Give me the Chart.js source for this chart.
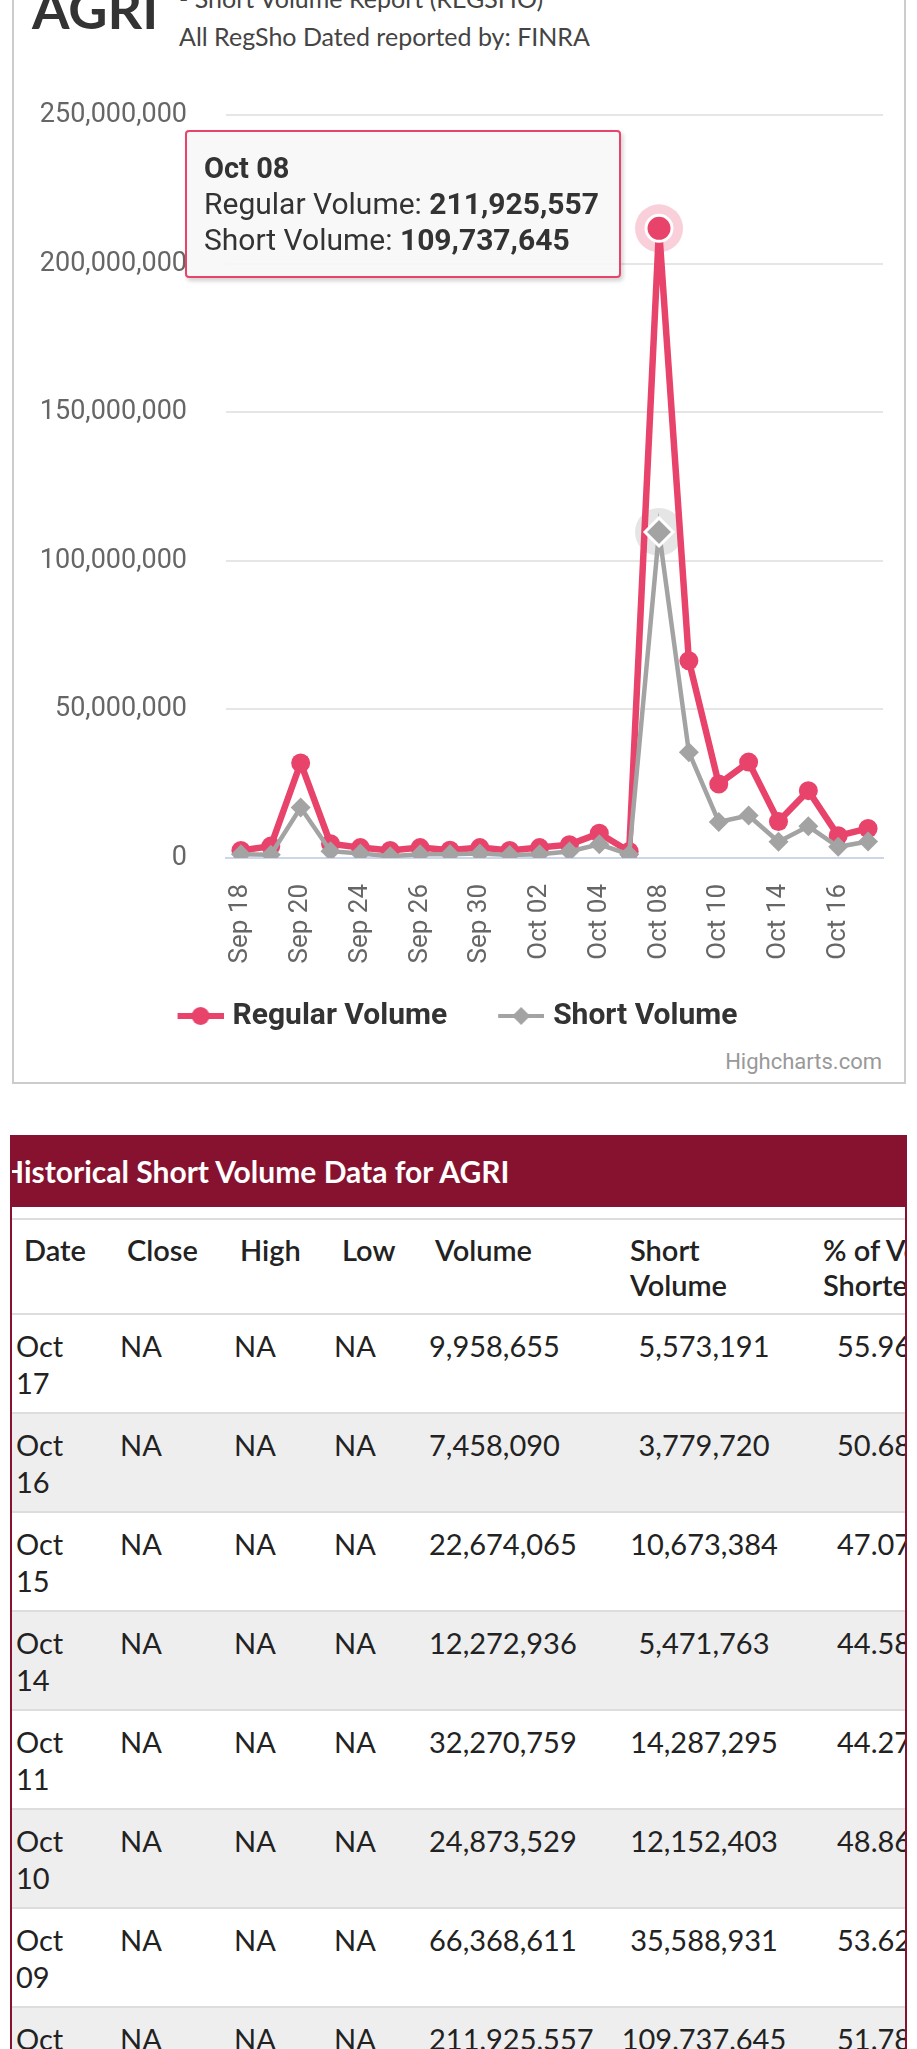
<!DOCTYPE html>
<html>
<head>
<meta charset="utf-8">
<title>AGRI - Short Volume Report (REGSHO)</title>
<script src="https://cdn.jsdelivr.net/npm/chart.js@4.4.1/dist/chart.umd.min.js"></script>
<style>
  html, body { margin: 0; padding: 0; background: #fff; }
  body { position: relative; width: 917px; height: 2049px; overflow: hidden; font-family: Lato, "Open Sans", sans-serif; color: #222; }

  #chartBox { position: absolute; left: 12px; top: -30px; width: 890px; height: 1110px; border: 2px solid #cccccc; }
  #ticker { position: absolute; left: 32px; top: -24px; font: bold 54px/65px Lato, sans-serif; color: #333; }
  #subtitle { position: absolute; left: 179px; top: -21px; font: 25px/38px Lato, sans-serif; color: #444; white-space: nowrap; }

  #chartWrap { position: absolute; left: 14px; top: 60px; width: 890px; height: 981px; }
  #tt { position: absolute; display: none; white-space: nowrap; font-family: Roboto, sans-serif; color: #333;
        background: rgba(247, 247, 247, 0.9); border: 2px solid #e8436b; border-radius: 4px;
        padding: 18px 20px 18px 17px; box-shadow: 2px 3px 4px rgba(0, 0, 0, 0.18); }
  #tt .t { font-size: 29px; line-height: 36px; font-weight: bold; }
  #tt .r { font-size: 30px; line-height: 36px; }
  #credits { position: absolute; right: 35px; top: 1049px; font: 22px/26px Roboto, sans-serif; color: #999; }

  #table { position: absolute; left: 10px; top: 1135px; width: 893px; height: 1000px; overflow: hidden;
           border-left: 2px solid #86122f; border-right: 2px solid #86122f; }
  #tableTitle { height: 72px; background: #86122f; color: #fff; position: relative; white-space: nowrap; }
  #tableTitle span { position: absolute; left: -11px; top: 0; font: bold 30px/72px Lato, sans-serif; }
  .row { position: relative; border-bottom: 2px solid #dddddd; }
  .head { margin-top: 11px; border-top: 2px solid #dddddd; height: 93px; font-weight: 600; font-size: 29px; line-height: 35px; color: #222; }
  .body { height: 97px; font-size: 29px; line-height: 37px; color: #222; }
  .body.alt { background: #eeeeee; }
  .cell { position: absolute; top: 12px; white-space: normal; }
</style>
</head>
<body>

<div id="chartBox"></div>
<div id="ticker">AGRI</div>
<div id="subtitle">- Short Volume Report (REGSHO)<br>All RegSho Dated reported by: FINRA</div>

<div id="chartWrap">
  <canvas id="volumeChart" width="890" height="981"></canvas>
  <div id="tt"></div>
</div>
<div id="credits">Highcharts.com</div>

<div id="table">
  <div id="tableTitle"><span>Historical Short Volume Data for AGRI</span></div>
  <div id="tableRows"></div>
</div>

<script>
const dates = ['Sep 18', 'Sep 19', 'Sep 20', 'Sep 23', 'Sep 24', 'Sep 25', 'Sep 26', 'Sep 27', 'Sep 30',
               'Oct 01', 'Oct 02', 'Oct 03', 'Oct 04', 'Oct 07', 'Oct 08', 'Oct 09', 'Oct 10', 'Oct 11',
               'Oct 14', 'Oct 15', 'Oct 16', 'Oct 17'];

const regularVolume = [2500000, 4000000, 32000000, 4800000, 3500000, 2500000, 3500000, 2600000, 3500000,
                       2500000, 3500000, 4500000, 8300000, 2200000, 211925557, 66368611, 24873529, 32270759,
                       12272936, 22674065, 7458090, 9958655];

const shortVolume = [1300000, 1100000, 17000000, 2300000, 1500000, 600000, 1300000, 1300000, 1500000,
                     1000000, 1300000, 2200000, 4600000, 1200000, 109737645, 35588931, 12152403, 14287295,
                     5471763, 10673384, 3779720, 5573191];

const yTicks = [0, 50000000, 100000000, 150000000, 200000000, 250000000];

// table (newest first) - % shorted as printed on the page
const tableRowCount = 8;
const pctShorted = ['55.96', '50.68', '47.07', '44.58', '44.27', '48.86', '53.62', '51.78'];

const RED = '#e8436b';
const GRAY = '#a3a3a3';
const focusDate = 'Oct 08'; // the point the tooltip is shown for

// legend symbol: line with the marker in the middle, drawn at the right end of a wider canvas
// so the legend keeps Highcharts' spacing between items
const legendSymbol = (color, lineWidth, style) => {
    const c = document.createElement('canvas');
    c.width = 70; c.height = 24;
    const g = c.getContext('2d');
    const x0 = 24, cx = 47;
    g.strokeStyle = color;
    g.lineWidth = lineWidth;
    g.beginPath(); g.moveTo(x0, 12); g.lineTo(70, 12); g.stroke();
    g.fillStyle = color;
    g.beginPath();
    if (style === 'rectRot') {
        g.moveTo(cx, 3); g.lineTo(cx + 9, 12); g.lineTo(cx, 21); g.lineTo(cx - 9, 12); g.closePath();
    } else {
        g.arc(cx, 12, 9, 0, Math.PI * 2);
    }
    g.fill();
    return c;
};

// halo behind hovered markers (Highcharts style)
const haloPlugin = {
    id: 'halo',
    beforeDatasetsDraw(chart) {
        const ctx = chart.ctx;
        chart.getActiveElements().forEach(a => {
            const ds = chart.data.datasets[a.datasetIndex];
            ctx.save();
            ctx.beginPath();
            ctx.arc(a.element.x, a.element.y, 24, 0, Math.PI * 2);
            ctx.fillStyle = ds.haloColor;
            ctx.fill();
            ctx.restore();
        });
    }
};

// HTML tooltip so the values can be bold
const externalTooltip = ({chart, tooltip}) => {
    const el = document.getElementById('tt');
    if (tooltip.opacity === 0 || !tooltip.dataPoints || !tooltip.dataPoints.length) {
        el.style.display = 'none';
        return;
    }
    const items = tooltip.dataPoints.slice().sort((a, b) => a.datasetIndex - b.datasetIndex);
    el.innerHTML = '<div class="t">' + items[0].label + '</div>' +
        items.map(it => '<div class="r">' + it.dataset.label + ': <b>' +
            it.raw.toLocaleString('en-US') + '</b></div>').join('');
    el.style.display = 'block';
    const anchor = items[0].element;
    el.style.left = (anchor.x - 38 - el.offsetWidth) + 'px';
    el.style.top = (anchor.y - 98) + 'px';
};

Chart.defaults.font.family = 'Roboto';

const ctx = document.getElementById('volumeChart');
const chart = new Chart(ctx, {
    type: 'line',
    data: {
        labels: dates,
        datasets: [
            {
                label: 'Regular Volume',
                data: regularVolume,
                borderColor: RED,
                backgroundColor: RED,
                borderWidth: 6.5,
                pointStyle: 'circle',
                pointRadius: 9.5,
                pointBorderWidth: 0,
                pointBackgroundColor: RED,
                pointHoverRadius: 13,
                pointHoverBorderWidth: 3,
                pointHoverBorderColor: '#fff',
                pointHoverBackgroundColor: RED,
                haloColor: 'rgba(232, 67, 107, 0.25)',
                order: 1
            },
            {
                label: 'Short Volume',
                data: shortVolume,
                borderColor: GRAY,
                backgroundColor: GRAY,
                borderWidth: 4.5,
                pointStyle: 'rectRot',
                pointRadius: 10,
                pointBorderWidth: 0,
                pointBackgroundColor: GRAY,
                pointHoverRadius: 14,
                pointHoverBorderWidth: 3,
                pointHoverBorderColor: '#fff',
                pointHoverBackgroundColor: GRAY,
                haloColor: 'rgba(150, 150, 150, 0.25)',
                order: 0
            }
        ]
    },
    options: {
        responsive: false,
        animation: false,
        events: [],
        layout: { padding: { top: 55, right: 21, left: 0, bottom: 0 } },
        interaction: { mode: 'index', intersect: false },
        scales: {
            x: {
                offset: true,
                grid: { display: false, drawTicks: false },
                border: { color: '#ccd6eb', width: 2 },
                afterFit: s => { s.height = 110; },
                ticks: {
                    autoSkip: false,
                    minRotation: 90,
                    maxRotation: 90,
                    padding: 26,
                    color: '#666',
                    font: { size: 26 },
                    callback: (val, i) => (i % 2 === 0 ? dates[i] : null)
                }
            },
            y: {
                min: yTicks[0],
                max: yTicks[yTicks.length - 1],
                afterFit: s => { s.width = 212; },
                afterBuildTicks: s => { s.ticks = yTicks.map(v => ({value: v})); },
                grid: {
                    drawTicks: false,
                    lineWidth: 2,
                    color: c => (c.tick && c.tick.value === 0 ? '#ccd6eb' : '#e6e6e6')
                },
                border: { display: false },
                ticks: {
                    padding: 39,
                    color: '#666',
                    font: { size: 27 },
                    callback: v => v.toLocaleString('en-US')
                }
            }
        },
        plugins: {
            legend: {
                position: 'bottom',
                labels: {
                    usePointStyle: true,
                    pointStyleWidth: 58,
                    padding: 33,
                    color: '#333',
                    font: { size: 30, weight: 'bold' },
                    generateLabels: c => c.data.datasets.map((ds, i) => ({
                        text: ds.label,
                        fillStyle: ds.borderColor,
                        strokeStyle: ds.borderColor,
                        fontColor: '#333',
                        lineWidth: 0,
                        hidden: false,
                        datasetIndex: i,
                        pointStyle: legendSymbol(ds.borderColor, i === 0 ? 6 : 4, ds.pointStyle)
                    }))
                }
            },
            tooltip: {
                enabled: false,
                external: externalTooltip
            }
        }
    },
    plugins: [haloPlugin]
});

// --- show the hover state for the focus date ---
const focus = dates.indexOf(focusDate);
const active = [{datasetIndex: 0, index: focus}, {datasetIndex: 1, index: focus}];
chart.setActiveElements(active);
const anchorPt = chart.getDatasetMeta(0).data[focus];
chart.tooltip.setActiveElements(active, {x: anchorPt.x, y: anchorPt.y});
chart.update();

// --- historical table (newest first) ---
const rowsEl = document.getElementById('tableRows');
const headCols = [
    {text: 'Date', left: 12, width: 80},
    {text: 'Close', left: 115, width: 100},
    {text: 'High', left: 228, width: 90},
    {text: 'Low', left: 330, width: 80},
    {text: 'Volume', left: 423, width: 160},
    {text: 'Short Volume', left: 618, width: 120},
    {text: '% of Volume Shorted', left: 811, width: 170}
];
const head = document.createElement('div');
head.className = 'row head';
headCols.forEach(h => {
    const d = document.createElement('div');
    d.className = 'cell';
    d.style.left = h.left + 'px';
    d.style.width = h.width + 'px';
    d.textContent = h.text;
    head.appendChild(d);
});
rowsEl.appendChild(head);

for (let k = 0; k < tableRowCount; k++) {
    const i = dates.length - 1 - k;
    const row = document.createElement('div');
    row.className = 'row body' + (k % 2 === 1 ? ' alt' : '');
    const cells = [
        {text: dates[i], left: 4, width: 70},
        {text: 'NA', left: 108, width: 80},
        {text: 'NA', left: 222, width: 80},
        {text: 'NA', left: 322, width: 80},
        {text: regularVolume[i].toLocaleString('en-US'), left: 417, width: 170},
        {text: shortVolume[i].toLocaleString('en-US'), left: 592, width: 200, align: 'center'},
        {text: pctShorted[k], left: 825, width: 120}
    ];
    cells.forEach(c => {
        const d = document.createElement('div');
        d.className = 'cell';
        d.style.left = c.left + 'px';
        d.style.width = c.width + 'px';
        if (c.align) d.style.textAlign = c.align;
        d.textContent = c.text;
        row.appendChild(d);
    });
    rowsEl.appendChild(row);
}
</script>
</body>
</html>
